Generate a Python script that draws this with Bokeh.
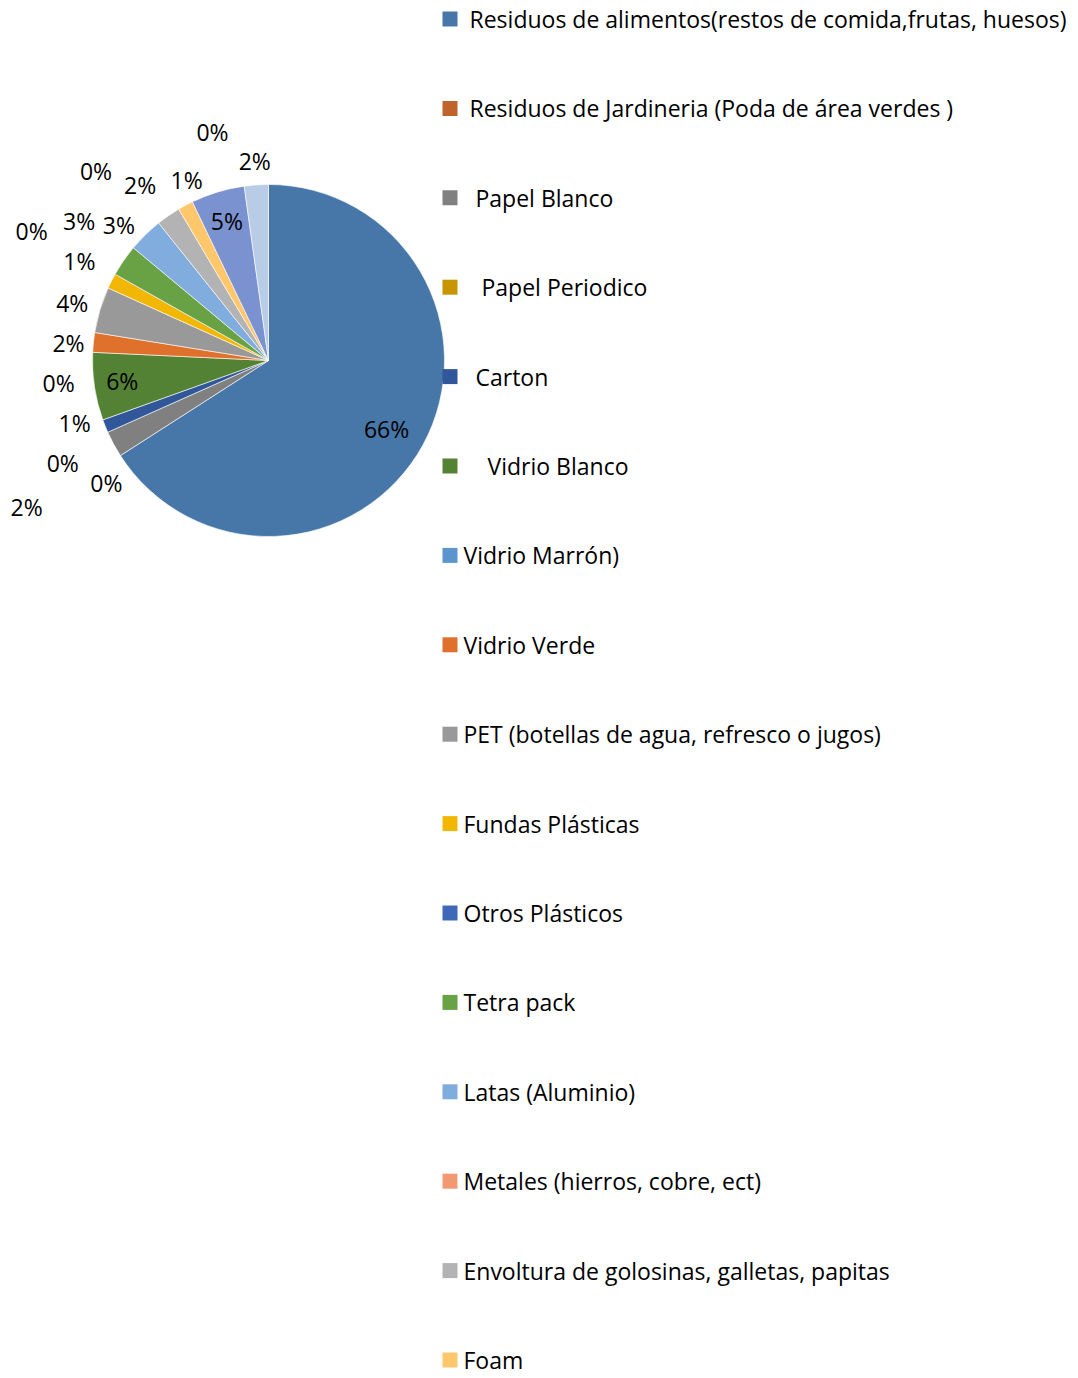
import math
from bokeh.plotting import figure
from bokeh.models import ColumnDataSource, Range1d
from bokeh.core.properties import value
from bokeh.embed import file_html
from bokeh.resources import INLINE

# ---------------- data ----------------
categories = [
    "Residuos de alimentos(restos de comida,frutas, huesos)",
    "Residuos de Jardineria (Poda de área verdes )",
    "Papel Blanco",
    "Papel  Periodico",
    "Carton",
    "Vidrio Blanco",
    "Vidrio Marrón)",
    "Vidrio Verde",
    "PET (botellas de agua, refresco o jugos)",
    "Fundas Plásticas",
    "Otros Plásticos",
    "Tetra pack",
    "Latas (Aluminio)",
    "Metales (hierros, cobre, ect)",
    "Envoltura de golosinas, galletas, papitas",
    "Foam",
]
# slice values (%), clockwise from 12 o'clock; the last three slices belong to
# categories whose legend entries fall below the visible page
values = [65.75, 0, 2.4, 0, 1.2, 6.2, 0, 1.8, 4.2, 1.4, 0, 2.9, 3.2, 0, 2.2, 1.4,
          4.9, 0, 2.2]
colors = ["#4677A8", "#C0622B", "#808080", "#C69500", "#2F579A", "#548235",
          "#5A96CD", "#E0712C", "#999999", "#F2B705", "#4068B8", "#69A145",
          "#80ADDD", "#F19A72", "#B3B3B3", "#FEC76B", "#7B92D0", "#9E480E",
          "#B8CCE6"]
# leading spaces of the legend labels (in pixels)
legend_indent = [6, 6, 12, 18, 12, 24, 0, 0, 0, 0, 0, 0, 0, 0, 0, 0]

# label layout (radius factor, angular nudge in degrees)
label_r = [0.78, 1.16, 1.61, 1.31, 1.16, 0.84, 1.20, 1.14, 1.16, 1.21, 1.53,
           1.33, 1.14, 1.45, 1.23, 1.12, 0.82, 1.33, 1.13]
label_nudge = [2.0, -4.7, -3.0, -2.8, 3.6, 0.0, -9.2, -1.3, -0.7, 0.5, -1.0,
               1.4, -3.8, -3.9, -1.7, 3.6, 0.0, -5.9, 0.0]

# ---------------- layout ----------------
W, H = 1078, 1378
cx, cy, R = 268, H - 360, 176
FONT = "Open Sans"
FS = "23px"

p = figure(width=W, height=H, output_backend="svg", toolbar_location=None,
           x_range=Range1d(0, W), y_range=Range1d(0, H), min_border=0)
p.axis.visible = False
p.grid.visible = False
p.outline_line_color = None

total = sum(values)
ws = dict(s=[], e=[], c=[])
lx, ly, lt = [], [], []
acc = 0.0
for i, v in enumerate(values):
    a0 = acc / total * 360.0
    acc += v
    a1 = acc / total * 360.0
    if v > 0:
        ws["s"].append(math.radians(90 - a0))
        ws["e"].append(math.radians(90 - a1))
        ws["c"].append(colors[i])
    mid = math.radians((a0 + a1) / 2 + label_nudge[i])
    lx.append(cx + label_r[i] * R * math.sin(mid))
    ly.append(cy + label_r[i] * R * math.cos(mid) + 1.5)
    lt.append(f"{round(v / total * 100)}%")

p.wedge(x=cx, y=cy, radius=R, start_angle="s", end_angle="e", direction="clock",
        fill_color="c", line_color="white", line_width=0.6,
        source=ColumnDataSource(ws))

p.text(x=lx, y=ly, text=lt, text_font=value(FONT), text_font_size=FS,
       text_align="center", text_baseline="middle", text_color="#000000")

# legend
n = len(categories)
gy = [H - (18.5 + i * 89.4) for i in range(n)]
p.rect(x=[449.5] * n, y=gy, width=15, height=15, fill_color=colors[:n],
       line_color=None)
p.text(x=[463 + d for d in legend_indent], y=gy, text=categories,
       text_font=value(FONT), text_font_size=FS, text_align="left",
       text_baseline="middle", text_color="#000000")

open("out.html", "w").write(file_html(p, INLINE))
